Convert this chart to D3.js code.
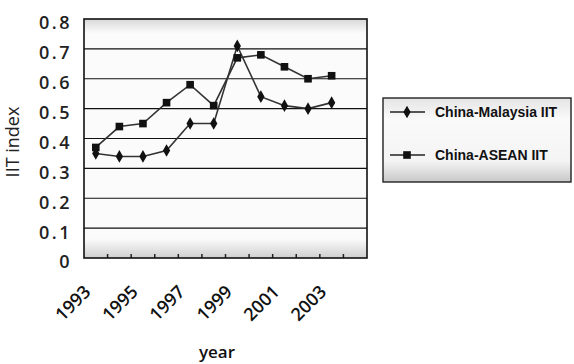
<!DOCTYPE html>
<html>
<head>
<meta charset="utf-8">
<script src="https://cdn.jsdelivr.net/npm/d3@7"></script>
<style>
  html, body { margin: 0; padding: 0; background: #fff; }
  svg { display: block; }
</style>
</head>
<body>
<svg id="chart" width="574" height="364"></svg>
<script>
// Category axis: one slot per year, the last slot is left empty
const years = ["1993","1994","1995","1996","1997","1998","1999","2000","2001","2002","2003","2004"];
const yearLabels = ["1993","1995","1997","1999","2001","2003"];
const malaysiaIIT = [0.35, 0.34, 0.34, 0.36, 0.45, 0.45, 0.71, 0.54, 0.51, 0.50, 0.52];
const aseanIIT    = [0.37, 0.44, 0.45, 0.52, 0.58, 0.51, 0.67, 0.68, 0.64, 0.60, 0.61];
const yTicks = [0, 0.1, 0.2, 0.3, 0.4, 0.5, 0.6, 0.7, 0.8];
const seriesNames = ["China-Malaysia IIT", "China-ASEAN IIT"];

const svg = d3.select("#chart");
const plot = { left: 84, right: 367, top: 19, bottom: 258 };

const x = d3.scaleBand().domain(years).range([plot.left, plot.right]).paddingInner(0).paddingOuter(0);
const y = d3.scaleLinear().domain([0, 0.8]).range([plot.bottom, plot.top]);
const cx = d => x(d) + x.bandwidth() / 2;

// soft shading of the plot and legend frames
const defs = svg.append("defs");
const g1 = defs.append("linearGradient").attr("id", "plotShade").attr("x1", 0).attr("y1", 0).attr("x2", 0).attr("y2", 1);
g1.append("stop").attr("offset", "0%").attr("stop-color", "#d8d8d8");
g1.append("stop").attr("offset", "6%").attr("stop-color", "#fbfbfb");
g1.append("stop").attr("offset", "92%").attr("stop-color", "#fbfbfb");
g1.append("stop").attr("offset", "100%").attr("stop-color", "#cfcfcf");
const g2 = defs.append("linearGradient").attr("id", "legendShade").attr("x1", 0).attr("y1", 0).attr("x2", 0).attr("y2", 1);
g2.append("stop").attr("offset", "0%").attr("stop-color", "#e4e4e4");
g2.append("stop").attr("offset", "25%").attr("stop-color", "#fafafa");
g2.append("stop").attr("offset", "75%").attr("stop-color", "#f4f4f4");
g2.append("stop").attr("offset", "100%").attr("stop-color", "#c8c8c8");

svg.append("rect")
  .attr("x", plot.left).attr("y", plot.top)
  .attr("width", plot.right - plot.left).attr("height", plot.bottom - plot.top)
  .attr("fill", "url(#plotShade)");

// horizontal gridlines
svg.append("g")
  .selectAll("line")
  .data(yTicks.filter(v => v > 0 && v < 0.8))
  .join("line")
  .attr("x1", plot.left).attr("x2", plot.right)
  .attr("y1", d => y(d)).attr("y2", d => y(d))
  .attr("stroke", "#111").attr("stroke-width", 1.2);

// y axis labels
const yAxis = d3.axisLeft(y).tickValues(yTicks).tickSize(0).tickPadding(12)
  .tickFormat(d => d === 0 ? "0" : d3.format(".1f")(d));
svg.append("g")
  .attr("transform", `translate(${plot.left},0)`)
  .call(yAxis)
  .call(g => g.select(".domain").remove())
  .call(g => g.selectAll("text")
    .attr("font-family", "'Open Sans', 'DejaVu Sans', sans-serif")
    .attr("font-size", 18).attr("font-weight", 600)
    .attr("letter-spacing", 2.5)
    .attr("fill", "#222").attr("dy", "0.55em"));

// x axis: inner ticks at category boundaries, labels on alternate years
const xAxis = d3.axisBottom(x).tickValues(years.slice(0, 11)).tickSize(0).tickFormat("");
svg.append("g")
  .attr("transform", `translate(0,${plot.bottom})`)
  .call(xAxis)
  .call(g => g.select(".domain").remove());

svg.append("g")
  .selectAll("line")
  .data(years.slice(1))
  .join("line")
  .attr("x1", d => x(d)).attr("x2", d => x(d))
  .attr("y1", plot.bottom).attr("y2", plot.bottom - 4)
  .attr("stroke", "#222").attr("stroke-width", 1.5);

svg.append("g")
  .selectAll("text")
  .data(yearLabels)
  .join("text")
  .attr("transform", d => `translate(${cx(d) - 4},${plot.bottom + 35}) rotate(-45)`)
  .attr("text-anchor", "end")
  .attr("font-family", "'Open Sans', 'DejaVu Sans', sans-serif")
  .attr("font-size", 18).attr("font-weight", 600)
  .attr("fill", "#111")
  .text(d => d);

// plot frame
svg.append("rect")
  .attr("x", plot.left).attr("y", plot.top)
  .attr("width", plot.right - plot.left).attr("height", plot.bottom - plot.top)
  .attr("fill", "none").attr("stroke", "#111").attr("stroke-width", 1.6);

// axis titles
svg.append("text")
  .attr("transform", `translate(19,142) rotate(-90)`)
  .attr("text-anchor", "middle")
  .attr("font-family", "'Open Sans', 'DejaVu Sans', sans-serif")
  .attr("font-size", 18).attr("fill", "#222")
  .text("IIT index");

svg.append("text")
  .attr("x", 217).attr("y", 358)
  .attr("text-anchor", "middle")
  .attr("font-family", "'Open Sans', 'DejaVu Sans', sans-serif")
  .attr("font-size", 17).attr("font-weight", 600).attr("fill", "#111")
  .text("year");

// series lines and markers
const line = d3.line().x((d, i) => cx(years[i])).y(d => y(d));
const diamond = d3.symbol().type(d3.symbolDiamond).size(46);
const square = d3.symbol().type(d3.symbolSquare).size(58);

svg.append("path").datum(aseanIIT)
  .attr("d", line).attr("fill", "none").attr("stroke", "#333").attr("stroke-width", 1.6);
svg.append("path").datum(malaysiaIIT)
  .attr("d", line).attr("fill", "none").attr("stroke", "#333").attr("stroke-width", 1.6);

svg.append("g").selectAll("path").data(aseanIIT).join("path")
  .attr("transform", (d, i) => `translate(${cx(years[i])},${y(d)})`)
  .attr("d", square).attr("fill", "#111");
svg.append("g").selectAll("path").data(malaysiaIIT).join("path")
  .attr("transform", (d, i) => `translate(${cx(years[i])},${y(d)})`)
  .attr("d", diamond).attr("fill", "#111");

// legend
const legend = svg.append("g");
legend.append("rect")
  .attr("x", 383).attr("y", 98).attr("width", 188).attr("height", 84)
  .attr("fill", "url(#legendShade)").attr("stroke", "#222").attr("stroke-width", 1.4);

const legendRows = [
  { name: seriesNames[0], sym: diamond, y: 112 },
  { name: seriesNames[1], sym: square, y: 155 }
];
const rows = legend.selectAll("g.row").data(legendRows).join("g")
  .attr("transform", d => `translate(0,${d.y})`);
rows.append("line")
  .attr("x1", 390).attr("x2", 425).attr("y1", 0).attr("y2", 0)
  .attr("stroke", "#222").attr("stroke-width", 1.6);
rows.append("path")
  .attr("transform", "translate(407,0)")
  .attr("d", d => d.sym()).attr("fill", "#111");
rows.append("text")
  .attr("x", 435).attr("y", 0).attr("dy", "0.35em")
  .attr("font-family", "'Liberation Sans', Arial, sans-serif")
  .attr("font-size", 14).attr("font-weight", "bold")
  .attr("fill", "#111")
  .text(d => d.name);
</script>
</body>
</html>
